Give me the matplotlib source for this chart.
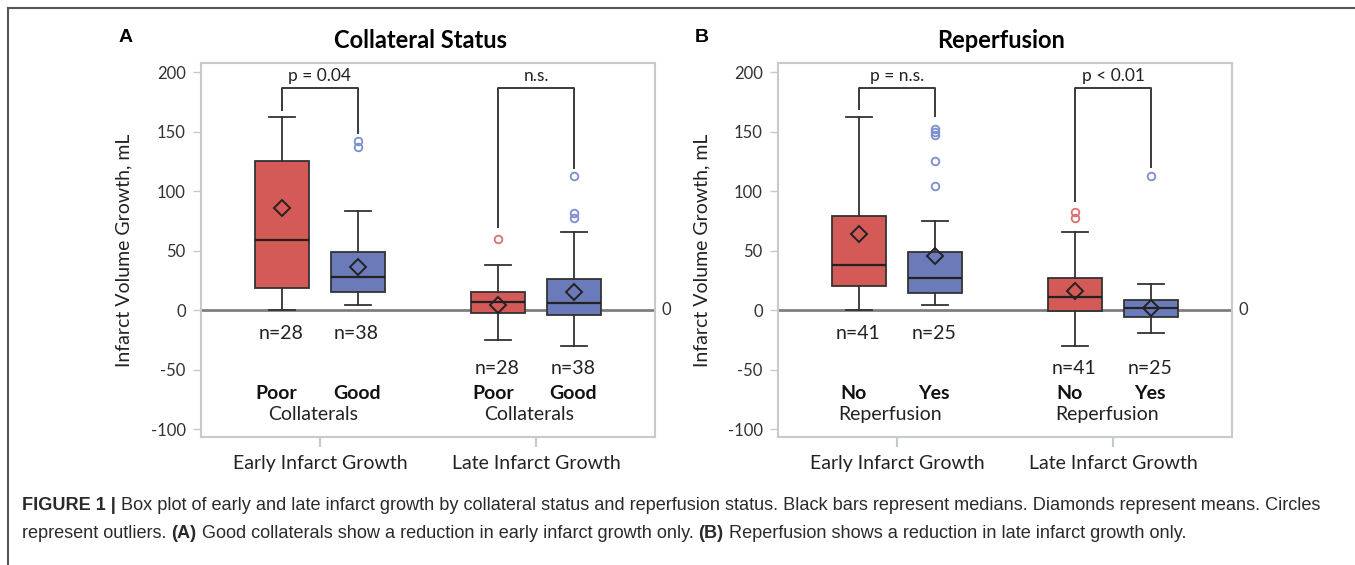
import matplotlib
matplotlib.use('Agg')
import matplotlib.pyplot as plt
from matplotlib.lines import Line2D

plt.rcParams['font.family'] = ['Lato', 'DejaVu Sans']

groups = ['Early Infarct Growth', 'Late Infarct Growth']

# panel A - collateral status (order: early poor, early good, late poor, late good)
a_title = 'Collateral Status'
a_sub = ['Poor', 'Good']
a_word = 'Collaterals'
a_whislo = [0, 4.5, -25, -30.5]
a_q1 = [18.5, 15.5, -2.5, -4]
a_med = [59, 28, 7, 6]
a_q3 = [125.5, 49, 15.5, 26.5]
a_whishi = [162, 83, 38, 66]
a_mean = [86, 36, 4.5, 15]
a_fliers = [[], [137, 142], [60], [77, 81.5, 113]]
a_n = [28, 38, 28, 38]
a_p = ['p = 0.04', 'n.s.']
a_legs = [[168, 148.5], [70, 119]]

# panel B - reperfusion (order: early no, early yes, late no, late yes)
b_title = 'Reperfusion'
b_sub = ['No', 'Yes']
b_word = 'Reperfusion'
b_whislo = [0, 4.5, -30.5, -19.5]
b_q1 = [20.5, 14, -1, -6]
b_med = [38, 27, 11, 2]
b_q3 = [79, 49, 27, 8.5]
b_whishi = [162, 74.5, 66, 21.5]
b_mean = [64, 45.5, 16, 1.7]
b_fliers = [[], [104.5, 125.5, 147, 150, 152], [77, 82], [113]]
b_n = [41, 25, 41, 25]
b_p = ['p = n.s.', 'p < 0.01']
b_legs = [[169, 163], [92, 120]]

RED = '#d35a57'
BLUE = '#6b7bb9'
RED_OUT = '#d9716c'
BLUE_OUT = '#7d8ed0'
EDGE = '#333333'
SPINE = '#c6cacd'


def draw_panel(ax, whislo, q1, med, q3, whishi, mean, fliers, n, sub, word, p, legs):
    stats = []
    for i in range(4):
        stats.append(dict(whislo=whislo[i], q1=q1[i], med=med[i], q3=q3[i],
                          whishi=whishi[i], mean=mean[i], fliers=fliers[i]))
    pos = [0.825, 1.175, 1.825, 2.175]
    ax.axhline(0, color='#7f7f7f', lw=2, zorder=1)
    parts = ax.bxp(stats, positions=pos, widths=0.25, capwidths=0.12,
                   patch_artist=True, showmeans=True,
                   boxprops=dict(edgecolor=EDGE, linewidth=1.3),
                   medianprops=dict(color='#222222', linewidth=1.6),
                   whiskerprops=dict(color=EDGE, linewidth=1.3),
                   capprops=dict(color=EDGE, linewidth=1.3),
                   meanprops=dict(marker='D', markerfacecolor='none',
                                  markeredgecolor='#222222', markersize=8,
                                  markeredgewidth=1.4),
                   flierprops=dict(marker='o', markerfacecolor='none',
                                   markersize=5.5, markeredgewidth=1.3))
    for i, box in enumerate(parts['boxes']):
        box.set_facecolor(RED if i % 2 == 0 else BLUE)
        box.set_zorder(2)
        parts['fliers'][i].set_markeredgecolor(RED_OUT if i % 2 == 0 else BLUE_OUT)

    # significance brackets
    for g in range(2):
        x0, x1 = pos[2 * g], pos[2 * g + 1]
        ax.plot([x0, x0, x1, x1], [legs[g][0], 187, 187, legs[g][1]],
                color='#3a3a3a', lw=1.4, zorder=3)
        ax.text((x0 + x1) / 2, 190, p[g], ha='center', va='bottom',
                fontsize=12.5, color='#222222')

    # n labels and group names
    n_y = [-20, -20, -49, -49]
    for i in range(4):
        ax.text(pos[i] - 0.005, n_y[i], f'n={n[i]}', ha='center', va='center',
                fontsize=14, color='#222222')
    for g in range(2):
        c = g + 1
        ax.text(c - 0.2, -70.5, sub[0], ha='center', va='center', fontsize=14,
                fontweight='bold', color='#111111')
        ax.text(c + 0.17, -70.5, sub[1], ha='center', va='center', fontsize=14,
                fontweight='bold', color='#111111')
        ax.text(c - 0.03, -87.5, word, ha='center', va='center', fontsize=14,
                color='#222222')

    ax.text(1.015, 0, '0', transform=ax.get_yaxis_transform(), ha='left',
            va='center', fontsize=12, color='#333333')

    ax.set_xlim(0.45, 2.55)
    ax.set_ylim(-106.7, 207.6)
    ax.set_xticks([1, 2])
    ax.set_xticklabels(groups)
    ax.set_yticks([-100, -50, 0, 50, 100, 150, 200])
    ax.set_yticklabels(['-100', '-50', '0', '50', '100', '150', '200'])
    ax.tick_params(axis='y', colors=SPINE, labelcolor='#333333', labelsize=12,
                   length=6, width=1, pad=5)
    ax.tick_params(axis='x', colors=SPINE, labelcolor='#222222', labelsize=14,
                   length=7, width=1.5, pad=6)
    for s in ax.spines.values():
        s.set_color(SPINE)
        s.set_linewidth(1.5)
    ax.set_ylabel('Infarct Volume Growth, mL', fontsize=14, color='#222222')
    ax.yaxis.set_label_coords(-0.15, 0.5)


fig = plt.figure(figsize=(13.55, 5.65), dpi=100)
ax_a = fig.add_axes([0.1483, 0.2265, 0.3351, 0.662])
ax_b = fig.add_axes([0.5742, 0.2265, 0.3351, 0.662])

draw_panel(ax_a, a_whislo, a_q1, a_med, a_q3, a_whishi, a_mean, a_fliers,
           a_n, a_sub, a_word, a_p, a_legs)
draw_panel(ax_b, b_whislo, b_q1, b_med, b_q3, b_whishi, b_mean, b_fliers,
           b_n, b_sub, b_word, b_p, b_legs)

fig.text(421 / 1355, 1 - 41 / 565, a_title, ha='center', va='center',
         fontsize=17, fontweight='bold')
fig.text(1001 / 1355, 1 - 41 / 565, b_title, ha='center', va='center',
         fontsize=17, fontweight='bold')
fig.text(126 / 1355, 1 - 38 / 565, 'A', ha='center', va='center',
         fontsize=14, fontweight='bold', family='Liberation Sans')
fig.text(702 / 1355, 1 - 38 / 565, 'B', ha='center', va='center',
         fontsize=14, fontweight='bold', family='Liberation Sans')

# outer frame of the figure box
fig.add_artist(Line2D([8 / 1355, 1], [1 - 8 / 565, 1 - 8 / 565],
                      color='#555555', lw=1.5, transform=fig.transFigure))
fig.add_artist(Line2D([8 / 1355, 8 / 1355], [0, 1 - 8 / 565],
                      color='#555555', lw=1.5, transform=fig.transFigure))

# caption with bold pieces
renderer = fig.canvas.get_renderer()


def rich_line(x, y, pieces, size=13.1):
    for txt, bold in pieces:
        t = fig.text(x, y, txt, fontsize=size, family='Liberation Sans',
                     fontweight='bold' if bold else 'normal',
                     color='#2a2a2a', va='baseline')
        x += t.get_window_extent(renderer).width / fig.bbox.width


rich_line(22 / 1355, 1 - 510 / 565, [
    ('FIGURE 1 |', True),
    (' Box plot of early and late infarct growth by collateral status and '
     'reperfusion status. Black bars represent medians. Diamonds represent '
     'means. Circles', False)])
rich_line(22 / 1355, 1 - 538 / 565, [
    ('represent outliers. ', False), ('(A)', True),
    (' Good collaterals show a reduction in early infarct growth only. ', False),
    ('(B)', True),
    (' Reperfusion shows a reduction in late infarct growth only.', False)])

fig.savefig('out.png', dpi=100)
